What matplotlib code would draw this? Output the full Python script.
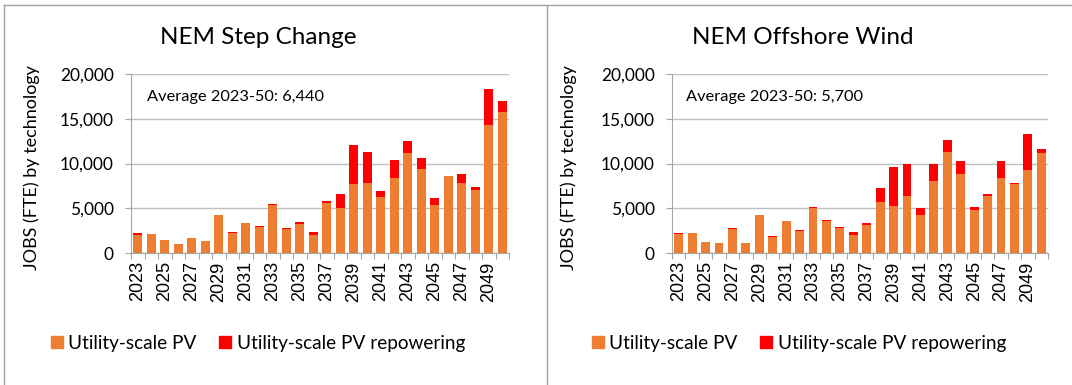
import numpy as np
import matplotlib.pyplot as plt
from matplotlib.patches import Patch
from matplotlib.lines import Line2D

years = list(range(2023, 2051))

# NEM Step Change
step_pv = [2040, 2070, 1480, 960, 1670, 1300, 4220, 2220, 3300, 2850, 5410, 2630, 3220, 2040,
           5630, 5040, 7700, 7780, 6260, 8410, 11150, 9330, 5410, 8590, 7850, 7080, 14330, 15700]
step_rep = [150, 0, 0, 0, 40, 0, 0, 150, 0, 150, 110, 150, 260, 290,
            190, 1550, 4340, 3550, 700, 1960, 1370, 1340, 740, 0, 930, 330, 3970, 1260]

# NEM Offshore Wind
off_pv = [2150, 2220, 1220, 1110, 2670, 1110, 4300, 1740, 3560, 2440, 5000, 3590, 2780, 2040,
          3150, 5670, 5220, 6330, 4300, 8000, 11300, 8850, 4810, 6410, 8330, 7700, 9300, 11220]
off_rep = [110, 0, 0, 0, 110, 0, 0, 110, 0, 120, 110, 110, 180, 260,
           180, 1550, 4340, 3630, 700, 1960, 1370, 1450, 300, 150, 2000, 120, 4030, 450]

titles = ["NEM Step Change", "NEM Offshore Wind"]
averages = ["6,440", "5,700"]

orange = "#ED7D31"
red = "#FF0000"
plt.rcParams['font.family'] = ['Lato', 'DejaVu Sans']

fig = plt.figure(figsize=(10.72, 3.85), dpi=100)
W, H = 1072, 385

panels = [
    (step_pv, step_rep, 131, 509, 258, 32, 147),
    (off_pv, off_rep, 672, 1048, 803, 569, 686),
]

for i, (pv, rep, x0, x1, tx, ylx, avx) in enumerate(panels):
    ax = fig.add_axes([x0 / W, 1 - 253 / H, (x1 - x0) / W, 179 / H])
    x = np.arange(len(years))
    ax.bar(x, pv, width=0.67, color=orange, zorder=3)
    ax.bar(x, rep, width=0.67, bottom=pv, color=red, zorder=3)
    ax.set_xlim(-0.5, len(years) - 0.5)
    ax.set_ylim(0, 20000)
    ax.set_yticks(range(0, 20001, 5000))
    ax.set_yticklabels([f"{v:,}" for v in range(0, 20001, 5000)], fontsize=12.5)
    ax.yaxis.grid(True, color="#BFBFBF", linewidth=1, zorder=0)
    for s in ["top", "right"]:
        ax.spines[s].set_visible(False)
    ax.spines["left"].set_color("#A6A6A6")
    ax.spines["bottom"].set_color("#A6A6A6")
    ax.tick_params(axis="y", length=4.3, color="#A6A6A6", pad=8)
    # category ticks sit between bars, labels every second year
    ax.set_xticks(np.arange(-0.5, len(years), 1), minor=False)
    ax.set_xticklabels([])
    ax.tick_params(axis="x", which="major", length=4, color="#A6A6A6")
    ax.set_xticks(x[::2], minor=True)
    ax.set_xticklabels([str(y) for y in years[::2]], minor=True, rotation=90)
    ax.tick_params(axis="x", which="minor", length=0, pad=6, labelsize=13,
                   labelfontfamily="Liberation Sans")
    ax.text((avx - x0) / (x1 - x0), (253 - 97) / 179, f"Average 2023-50: {averages[i]}",
            transform=ax.transAxes, fontsize=11.8, va="center", ha="left")
    fig.text(ylx / W, 1 - 168 / H, "JOBS (FTE) by technology", rotation=90,
             fontsize=13, ha="center", va="center")
    fig.text(tx / W, 1 - 37 / H, titles[i], fontsize=17.5, ha="center", va="center")

    handles = [Patch(color=orange, label="Utility-scale PV"),
               Patch(color=red, label="Utility-scale PV repowering")]
    fig.legend(handles=handles, loc="center left", ncol=2, frameon=False,
               bbox_to_anchor=((x0 - 97) / W, 1 - 343 / H), fontsize=13.7,
               handlelength=0.6, handleheight=0.6, handletextpad=0.3, columnspacing=1.2)

# outer frame and divider
fig.add_artist(Line2D([4 / W, 4 / W], [0, 1 - 5 / H], color="#A0A0A0", lw=1))
fig.add_artist(Line2D([4 / W, 1], [1 - 5 / H, 1 - 5 / H], color="#A0A0A0", lw=1))
fig.add_artist(Line2D([547 / W, 547 / W], [0, 1 - 5 / H], color="#A0A0A0", lw=1))

fig.savefig("out.png", dpi=100)
